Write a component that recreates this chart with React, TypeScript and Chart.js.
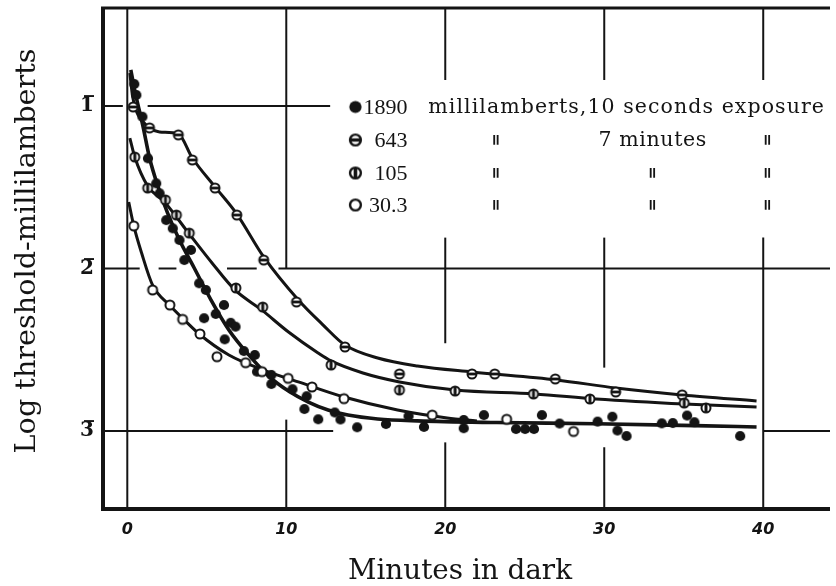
import { useEffect, useRef } from "react";
import { Chart, registerables } from "chart.js";

Chart.register(...registerables);

const INK = "#141414";

// ---------- axes ----------
const X_MIN = -1.528;
const X_MAX = 44.2;
const Y_MIN = -3.48;
const Y_MAX = -0.397;
const xTickValues = [0, 10, 20, 30, 40];
const yTickValues = [-1, -2, -3];
const yTickLabels = ["1\u0305", "2\u0305", "3\u0305"];
const xAxisTitle = "Minutes in dark";
const yAxisTitle = "Log threshold-millilamberts";

// ---------- legend ----------
const legendIntensities = ["1890", "643", "105", "30.3"];
const legendUnitsText = "millilamberts,10 seconds exposure";
const legendDurationText = "7 minutes";
const dittoMark = "\"";

// ---------- 1890 millilamberts, 10 seconds (filled dots) ----------
const pts1890X = [0.44, 0.57, 0.95, 1.3, 1.82, 2.03, 2.45, 2.86, 3.28, 3.59, 4.0, 4.52, 4.94, 4.83, 5.56, 6.08, 6.5, 6.81, 6.13, 7.33, 8.02, 8.16, 9.06, 9.06, 10.39, 11.28, 11.14, 12.01, 13.05, 13.41, 14.46, 16.27, 17.69, 18.66, 21.16, 21.16, 22.43, 24.45, 25.02, 25.58, 26.08, 27.19, 29.58, 30.51, 30.83, 31.4, 33.62, 34.31, 35.21, 35.67, 38.55];
const pts1890Y = [-0.865, -0.932, -1.066, -1.322, -1.476, -1.537, -1.702, -1.753, -1.825, -1.948, -1.886, -2.091, -2.132, -2.306, -2.28, -2.225, -2.334, -2.358, -2.436, -2.508, -2.532, -2.635, -2.655, -2.711, -2.743, -2.786, -2.865, -2.928, -2.886, -2.929, -2.977, -2.957, -2.908, -2.975, -2.932, -2.983, -2.902, -2.988, -2.988, -2.988, -2.902, -2.954, -2.942, -2.912, -2.997, -3.031, -2.953, -2.951, -2.905, -2.946, -3.031];
const curve1890X = [0.22, 0.53, 0.97, 1.4, 1.9, 2.53, 3.28, 4.21, 5.27, 6.39, 7.64, 8.89, 10.14, 11.39, 12.63, 13.88, 15.75, 18.25, 23.24, 29.48, 35.71, 39.58];
const curve1890Y = [-0.778, -0.932, -1.117, -1.32, -1.486, -1.658, -1.825, -1.997, -2.194, -2.378, -2.532, -2.662, -2.754, -2.822, -2.871, -2.902, -2.926, -2.938, -2.948, -2.955, -2.967, -2.975];

// ---------- 643 millilamberts, 7 minutes (circle with bar) ----------
const pts643X = [0.37, 1.4, 3.21, 4.09, 5.52, 6.89, 8.58, 10.64, 13.69, 17.12, 21.68, 23.11, 26.92, 30.72, 34.9];
const pts643Y = [-1.006, -1.135, -1.178, -1.332, -1.505, -1.671, -1.948, -2.206, -2.483, -2.649, -2.649, -2.649, -2.68, -2.76, -2.778];
const curve643X = [0.16, 0.34, 0.59, 0.9, 1.4, 2.03, 3.21, 4.09, 5.52, 6.89, 8.58, 10.76, 12.32, 13.69, 15.75, 18.25, 21.68, 26.98, 30.72, 34.9, 39.58];
const curve643Y = [-0.797, -0.945, -1.037, -1.086, -1.135, -1.16, -1.172, -1.32, -1.498, -1.665, -1.929, -2.194, -2.348, -2.471, -2.551, -2.6, -2.637, -2.686, -2.735, -2.778, -2.815];

// ---------- 105 millilamberts, 7 minutes (half circle) ----------
const pts105X = [0.47, 1.28, 2.4, 3.09, 3.9, 6.83, 8.52, 12.82, 17.12, 20.62, 25.55, 29.1, 35.03, 36.4];
const pts105Y = [-1.314, -1.505, -1.578, -1.671, -1.782, -2.12, -2.237, -2.594, -2.748, -2.754, -2.772, -2.803, -2.828, -2.858];
const curve105X = [0.16, 0.47, 1.28, 2.34, 3.9, 5.33, 6.77, 8.45, 10.14, 12.0, 12.82, 14.82, 17.12, 20.62, 25.61, 29.48, 35.03, 39.58];
const curve105Y = [-1.197, -1.314, -1.492, -1.591, -1.788, -1.966, -2.132, -2.255, -2.391, -2.52, -2.569, -2.643, -2.698, -2.748, -2.772, -2.803, -2.834, -2.852];

// ---------- 30.3 millilamberts, 7 minutes (open circles) ----------
const pts30X = [0.41, 1.59, 2.68, 3.48, 4.57, 5.64, 7.44, 8.47, 10.12, 11.62, 13.63, 19.18, 23.86, 28.07];
const pts30Y = [-1.738, -2.132, -2.225, -2.313, -2.403, -2.543, -2.58, -2.635, -2.676, -2.729, -2.801, -2.902, -2.928, -3.003];
const curve30X = [0.09, 0.41, 0.9, 1.59, 2.65, 3.59, 4.52, 6.39, 8.58, 10.76, 13.63, 17.0, 20.12, 21.99];
const curve30Y = [-1.591, -1.738, -1.905, -2.102, -2.225, -2.317, -2.403, -2.532, -2.625, -2.698, -2.791, -2.871, -2.92, -2.938];

const zip = (xs: number[], ys: number[]) => xs.map((x, i) => ({ x, y: ys[i] }));

type MarkerKind = "filled" | "hbar" | "vbar" | "open";

function makeMarker(kind: MarkerKind, scale = 1): HTMLCanvasElement {
  const size = Math.ceil(14 * scale);
  const c = document.createElement("canvas");
  c.width = size;
  c.height = size;
  const g = c.getContext("2d")!;
  const cx = size / 2;
  const cy = size / 2;
  const r = 4.5 * scale;
  g.beginPath();
  if (kind === "filled") {
    g.arc(cx, cy, r + 0.6 * scale, 0, Math.PI * 2);
    g.fillStyle = INK;
    g.fill();
    return c;
  }
  g.arc(cx, cy, r, 0, Math.PI * 2);
  g.fillStyle = "#ffffff";
  g.fill();
  g.lineWidth = 2 * scale;
  g.strokeStyle = INK;
  g.stroke();
  g.fillStyle = INK;
  if (kind === "hbar") g.fillRect(cx - r, cy - 1.4 * scale, 2 * r, 2.8 * scale);
  if (kind === "vbar") g.fillRect(cx - 1.5 * scale, cy - r, 3 * scale, 2 * r);
  return c;
}

// grid segments (data units), drawn like the hand-ruled original
const hGridSegments: [number, [number, number][]][] = [
  [-1, [[-Infinity, -0.28], [1.28, 12.76]]],
  [-2, [[-Infinity, 0.78], [1.97, 3.09], [6.27, 8.14], [9.51, Infinity]]],
  [-3, [[-Infinity, 12.95], [40, Infinity]]],
];
const vGridSegments: [number, [number, number][]][] = [
  [0, [[Infinity, -Infinity]]],
  [10, [[Infinity, -2], [-2.93, -Infinity]]],
  [20, [[Infinity, -0.84], [-1.81, -2.46], [-3.07, -Infinity]]],
  [30, [[Infinity, -0.84], [-1.81, -2.61], [-3.1, -Infinity]]],
  [40, [[Infinity, -0.84], [-1.81, -Infinity]]],
];

function fitFont(ctx: CanvasRenderingContext2D, text: string, family: string, weight: string, targetW: number) {
  const base = 20;
  ctx.font = `${weight} ${base}px "${family}"`;
  const w = ctx.measureText(text).width;
  const size = (base * targetW) / w;
  return `${weight} ${size.toFixed(2)}px "${family}"`;
}

// draws text with letter spacing so it spans a target width
function spacedText(ctx: CanvasRenderingContext2D, text: string, x: number, y: number, targetW: number) {
  const anyCtx = ctx as any;
  anyCtx.letterSpacing = "0px";
  const w = ctx.measureText(text).width;
  const extra = (targetW - w) / Math.max(1, text.length - 1);
  anyCtx.letterSpacing = `${extra.toFixed(2)}px`;
  ctx.fillText(text, x, y);
  anyCtx.letterSpacing = "0px";
}

export default function App() {
  const ref = useRef<HTMLCanvasElement>(null);

  useEffect(() => {
    document.body.style.margin = "0";
    const canvas = ref.current!;
    const mFilled = makeMarker("filled");
    const mH = makeMarker("hbar");
    const mV = makeMarker("vbar");
    const mOpen = makeMarker("open");
    const legendMarkers = [makeMarker("filled", 1.2), makeMarker("hbar", 1.2), makeMarker("vbar", 1.2), makeMarker("open", 1.2)];

    const clamp = (v: number, a: number, b: number) => Math.max(a, Math.min(b, v));

    const decor = {
      id: "decor",
      beforeDatasetsDraw(chart: any) {
        const { ctx, chartArea: a, scales } = chart;
        const sx = scales.x;
        const sy = scales.y;
        const px = (v: number) => clamp(sx.getPixelForValue(v), a.left, a.right);
        const py = (v: number) => clamp(sy.getPixelForValue(v), a.top, a.bottom);
        ctx.save();
        ctx.strokeStyle = INK;
        ctx.lineCap = "butt";
        ctx.lineWidth = 2;
        for (const [yv, spans] of hGridSegments) {
          const y = sy.getPixelForValue(yv);
          for (const [x0, x1] of spans) {
            ctx.beginPath();
            ctx.moveTo(px(x0), y);
            ctx.lineTo(px(x1), y);
            ctx.stroke();
          }
        }
        for (const [xv, spans] of vGridSegments) {
          const x = sx.getPixelForValue(xv);
          for (const [y0, y1] of spans) {
            ctx.beginPath();
            ctx.moveTo(x, py(y0));
            ctx.lineTo(x, py(y1));
            ctx.stroke();
          }
        }
        // frame: left, top, bottom (open on the right)
        ctx.lineWidth = 4;
        ctx.beginPath();
        ctx.moveTo(a.left, a.top - 1);
        ctx.lineTo(a.left, a.bottom + 2);
        ctx.stroke();
        ctx.beginPath();
        ctx.moveTo(a.left - 2, a.bottom);
        ctx.lineTo(a.right, a.bottom);
        ctx.stroke();
        ctx.lineWidth = 3;
        ctx.beginPath();
        ctx.moveTo(a.left - 2, a.top);
        ctx.lineTo(a.right, a.top);
        ctx.stroke();
        ctx.restore();
      },
      afterDatasetsDraw(chart: any) {
        const { ctx, scales } = chart;
        const sx = scales.x;
        const sy = scales.y;
        ctx.save();
        ctx.fillStyle = INK;
        ctx.textBaseline = "middle";

        // legend
        const rowsY = [-1.006, -1.209, -1.412, -1.609].map((v) => sy.getPixelForValue(v));
        const markerX = sx.getPixelForValue(14.35);
        const numRight = sx.getPixelForValue(17.62);
        const unitsLeft = sx.getPixelForValue(18.93);
        const unitsRight = sx.getPixelForValue(43.82);
        const dittoCols = [23.18, 33.03, 40.27].map((v) => sx.getPixelForValue(v));
        const legendFont = '20.5px "DejaVu Serif"';
        const numberFont = '22px "Liberation Serif"';
        const drawDitto = (x: number, y: number) => {
          ctx.save();
          ctx.font = 'bold 20px "DejaVu Sans"';
          ctx.textAlign = "center";
          ctx.textBaseline = "alphabetic";
          ctx.translate(x, y + 21);
          ctx.scale(0.8, 1.75);
          ctx.fillText(dittoMark, 0, 0);
          ctx.restore();
        };
        rowsY.forEach((y, i) => {
          const m = legendMarkers[i];
          ctx.drawImage(m, markerX - m.width / 2, y - m.height / 2);
          ctx.font = numberFont;
          ctx.textAlign = "right";
          ctx.fillText(legendIntensities[i], numRight, y + 1);
          if (i === 0) {
            ctx.font = legendFont;
            ctx.textAlign = "left";
            spacedText(ctx, legendUnitsText, unitsLeft, y + 1, unitsRight - unitsLeft);
          } else {
            drawDitto(dittoCols[0], y);
            drawDitto(dittoCols[2], y);
            if (i === 1) {
              ctx.font = legendFont;
              ctx.textAlign = "left";
              spacedText(ctx, legendDurationText, dittoCols[1] - 54, y + 1, 108);
            } else {
              drawDitto(dittoCols[1], y);
            }
          }
        });

        // axis titles
        ctx.textAlign = "center";
        ctx.font = fitFont(ctx, xAxisTitle, "DejaVu Serif", "normal", 224);
        ctx.fillText(xAxisTitle, 460, 572);
        ctx.save();
        ctx.translate(28, 251);
        ctx.rotate(-Math.PI / 2);
        ctx.font = fitFont(ctx, yAxisTitle, "DejaVu Serif", "normal", 405);
        ctx.fillText(yAxisTitle, 0, 0);
        ctx.restore();
        ctx.restore();
      },
    };

    const pointSet = (data: { x: number; y: number }[], style: HTMLCanvasElement, label: string) => ({
      label,
      data,
      showLine: false,
      pointStyle: style,
      pointRadius: 5,
      pointHoverRadius: 5,
      borderColor: INK,
      backgroundColor: INK,
    });
    const curveSet = (data: { x: number; y: number }[], label: string, width: number) => ({
      label,
      data,
      showLine: true,
      pointRadius: 0,
      borderColor: INK,
      borderWidth: width,
      cubicInterpolationMode: "monotone" as const,
      fill: false,
    });

    const chart = new Chart(canvas, {
      type: "scatter",
      data: {
        datasets: [
          pointSet(zip(pts30X, pts30Y), mOpen, "30.3 points"),
          pointSet(zip(pts105X, pts105Y), mV, "105 points"),
          pointSet(zip(pts643X, pts643Y), mH, "643 points"),
          pointSet(zip(pts1890X, pts1890Y), mFilled, "1890 points"),
          curveSet(zip(curve1890X, curve1890Y), "1890 curve", 3.6),
          curveSet(zip(curve643X, curve643Y), "643 curve", 3),
          curveSet(zip(curve105X, curve105Y), "105 curve", 3),
          curveSet(zip(curve30X, curve30Y), "30.3 curve", 3),
        ] as any,
      },
      options: {
        responsive: false,
        animation: false,
        layout: { padding: { top: 8, left: 0, right: 0, bottom: 0 } },
        plugins: { legend: { display: false }, tooltip: { enabled: false }, title: { display: false } },
        scales: {
          x: {
            type: "linear",
            position: "bottom",
            min: X_MIN,
            max: X_MAX,
            grid: { display: false, drawTicks: false },
            border: { display: false },
            ticks: {
              stepSize: 10,
              includeBounds: false,
              autoSkip: false,
              maxRotation: 0,
              color: INK,
              padding: 11,
              font: { family: "DejaVu Sans", size: 16, style: "italic", weight: "bold" },
              callback: (v: any) => (xTickValues.includes(Number(v)) ? String(v) : ""),
            },
            afterFit: (s: any) => {
              s.height = 77;
              s.paddingLeft = 0;
              s.paddingRight = 0;
            },
          },
          y: {
            type: "linear",
            position: "left",
            min: Y_MIN,
            max: Y_MAX,
            grid: { display: false, drawTicks: false },
            border: { display: false },
            ticks: {
              stepSize: 1,
              includeBounds: false,
              autoSkip: false,
              color: INK,
              padding: 9,
              font: { family: "DejaVu Serif", size: 20, weight: "bold" },
              callback: (v: any) => {
                const i = yTickValues.indexOf(Math.round(Number(v)));
                return i >= 0 ? yTickLabels[i] : "";
              },
            },
            afterFit: (s: any) => {
              s.width = 103;
              s.paddingTop = 0;
              s.paddingBottom = 0;
            },
          },
        },
      } as any,
      plugins: [decor],
    });
    return () => chart.destroy();
  }, []);

  return (
    <div style={{ position: "absolute", left: 0, top: 0, width: 836, height: 586, background: "#fff" }}>
      <canvas ref={ref} width={836} height={586} style={{ display: "block" }} />
    </div>
  );
}
